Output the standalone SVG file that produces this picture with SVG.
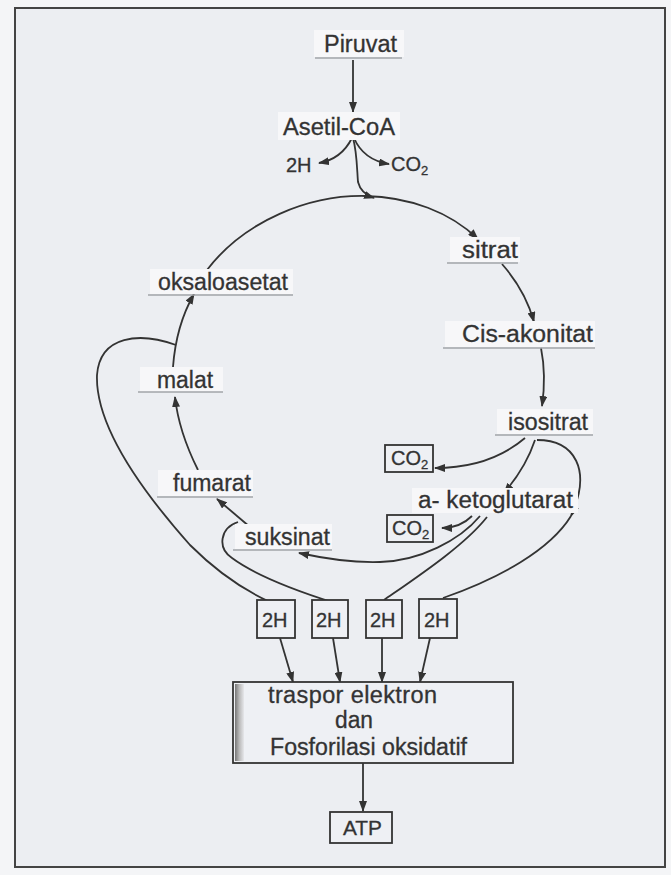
<svg xmlns="http://www.w3.org/2000/svg" width="671" height="875" viewBox="0 0 671 875">
<defs>
<style>
.lbl{font-family:"Liberation Sans",Arial,sans-serif;font-size:23.5px;fill:#333;stroke:#333;stroke-width:0.3;}
.sm{font-family:"Liberation Sans",Arial,sans-serif;font-size:20px;fill:#333;stroke:#333;stroke-width:0.3;}
.bg{fill:#f7f7f9;}
.ul{stroke:#a2a4a8;stroke-width:1.6;fill:none;}
.box{fill:#eef0f4;stroke:#333;stroke-width:1.8;}
.c{fill:none;stroke:#333;stroke-width:1.8;}
.a{marker-end:url(#arr);}
</style>
<marker id="arr" viewBox="0 0 11 8" refX="10" refY="4" markerWidth="11" markerHeight="8" markerUnits="userSpaceOnUse" orient="auto">
<path d="M0,0 L11,4 L0,8 Z" fill="#333"/>
</marker>
<linearGradient id="strip" x1="0" x2="1" y1="0" y2="0">
<stop offset="0" stop-color="#777"/>
<stop offset="0.5" stop-color="#bbb"/>
<stop offset="1" stop-color="#e6e7ea"/>
</linearGradient>
</defs>
<rect x="0" y="0" width="671" height="875" fill="#f4f5f7"/>
<rect id="frame" x="15" y="8" width="650" height="859" fill="#eceef2" stroke="#444" stroke-width="2"/>

<g id="connectors">
<path class="c a" d="M353,60 L353,112"/>
<path class="c a" d="M352,138 C346,150 336,160 319,163"/>
<path class="c a" d="M354,138 C360,152 370,161 389,164"/>
<path class="c a" d="M353,138 C357,152 357,170 358,182 C360,190 365,195 374,198"/>
<path class="c a" d="M207,270 C245,220 310,195 365,196 C410,197 450,212 478,239"/>
<path class="c a" d="M502,264 C516,280 528,300 534,322"/>
<path class="c a" d="M541,348 C545,368 545,385 542,406"/>
<path class="c a" d="M525,438 C505,455 475,468 435,468"/>
<path class="c a" d="M535,440 C530,455 522,472 504,493"/>
<path class="c a" d="M537,440 C575,440 592,470 571,516"/>
<path class="c" d="M571,516 C550,550 500,578 443,598"/>
<path class="c a" d="M472,516 C465,523 455,528 442,528"/>
<path class="c a" d="M480,516 C460,540 420,561 380,562 C350,563 322,558 299,553"/>
<path class="c" d="M487,517 C465,545 420,575 384,600"/>
<path class="c a" d="M250,527 L217,499"/>
<path class="c" d="M238,522 C220,528 217,548 232,558 C255,575 300,592 335,603"/>
<path class="c a" d="M198,470 C188,450 178,425 175,397"/>
<path class="c a" d="M173,367 C175,340 182,315 194,294"/>
<path class="c" d="M176,345 C140,332 100,335 97,375 C95,430 150,500 190,545 C215,570 240,588 268,601"/>
<path class="c a" d="M280,638 L293,682"/>
<path class="c a" d="M333,638 L340,682"/>
<path class="c a" d="M382,638 L382,682"/>
<path class="c a" d="M430,638 L420,682"/>
<path class="c a" d="M363,763 L363,811"/>
</g>

<g id="piruvat">
<rect class="bg" x="314" y="30" width="90" height="27"/>
<text class="lbl" x="324" y="52" textLength="73" lengthAdjust="spacingAndGlyphs">Piruvat</text>
<line class="ul" x1="315" y1="58" x2="402" y2="58"/>
</g>
<g id="asetil-coa">
<rect class="bg" x="278" y="112" width="122" height="28"/>
<text class="lbl" x="283" y="135" textLength="112" lengthAdjust="spacingAndGlyphs">Asetil-CoA</text>
</g>
<g id="h2-top"><text class="sm" x="286" y="172">2H</text></g>
<g id="co2-top"><text class="sm" x="391" y="171">CO<tspan font-size="13" dy="4">2</tspan></text></g>
<g id="sitrat">
<rect class="bg" x="450" y="237" width="70" height="25"/>
<text class="lbl" x="462" y="258" textLength="56" lengthAdjust="spacingAndGlyphs">sitrat</text>
<line class="ul" x1="447" y1="263" x2="518" y2="263"/>
</g>
<g id="cis-akonitat">
<rect class="bg" x="445" y="321" width="150" height="26"/>
<text class="lbl" x="462" y="342" textLength="131" lengthAdjust="spacingAndGlyphs">Cis-akonitat</text>
<line class="ul" x1="443" y1="348" x2="595" y2="348"/>
</g>
<g id="isositrat">
<rect class="bg" x="497" y="409" width="96" height="25"/>
<text class="lbl" x="508" y="430" textLength="80" lengthAdjust="spacingAndGlyphs">isositrat</text>
<line class="ul" x1="495" y1="435" x2="593" y2="435"/>
</g>
<g id="co2-a">
<rect class="box" x="385" y="445" width="48" height="27"/>
<text class="sm" x="391" y="465">CO<tspan font-size="13" dy="4">2</tspan></text>
</g>
<g id="a-ketoglutarat">
<rect class="bg" x="412" y="488" width="166" height="25"/>
<text class="lbl" x="418" y="508" textLength="155" lengthAdjust="spacingAndGlyphs">a- ketoglutarat</text>
</g>
<g id="co2-b">
<rect class="box" x="387" y="515" width="46" height="27"/>
<text class="sm" x="392" y="535">CO<tspan font-size="13" dy="4">2</tspan></text>
</g>
<g id="oksaloasetat">
<rect class="bg" x="150" y="269" width="143" height="25"/>
<text class="lbl" x="158" y="290" textLength="130" lengthAdjust="spacingAndGlyphs">oksaloasetat</text>
<line class="ul" x1="148" y1="295" x2="293" y2="295"/>
</g>
<g id="malat">
<rect class="bg" x="140" y="367" width="83" height="25"/>
<text class="lbl" x="157" y="388" textLength="56" lengthAdjust="spacingAndGlyphs">malat</text>
<line class="ul" x1="138" y1="392" x2="223" y2="392"/>
</g>
<g id="fumarat">
<rect class="bg" x="158" y="470" width="95" height="26"/>
<text class="lbl" x="173" y="491" textLength="78" lengthAdjust="spacingAndGlyphs">fumarat</text>
<line class="ul" x1="157" y1="497" x2="253" y2="497"/>
</g>
<g id="suksinat">
<rect class="bg" x="235" y="524" width="97" height="25"/>
<text class="lbl" x="245" y="545" textLength="85" lengthAdjust="spacingAndGlyphs">suksinat</text>
<line class="ul" x1="233" y1="550" x2="332" y2="550"/>
</g>
<g id="h2-1"><rect class="box" x="257" y="600" width="38" height="38"/><text class="sm" x="262" y="627">2H</text></g>
<g id="h2-2"><rect class="box" x="312" y="600" width="36" height="38"/><text class="sm" x="316" y="627">2H</text></g>
<g id="h2-3"><rect class="box" x="366" y="600" width="36" height="38"/><text class="sm" x="370" y="627">2H</text></g>
<g id="h2-4"><rect class="box" x="419" y="599" width="38" height="39"/><text class="sm" x="424" y="627">2H</text></g>
<g id="etc">
<rect class="box" x="233" y="682" width="280" height="81"/>
<rect x="235" y="684" width="9" height="77" fill="url(#strip)"/>
<text class="lbl" x="268" y="703" textLength="169" lengthAdjust="spacing">traspor elektron</text>
<text class="lbl" x="335" y="728" textLength="38" lengthAdjust="spacingAndGlyphs">dan</text>
<text class="lbl" x="270" y="755" textLength="197" lengthAdjust="spacingAndGlyphs">Fosforilasi oksidatif</text>
</g>
<g id="atp">
<rect class="box" x="330" y="812" width="62" height="31"/>
<text class="sm" x="343" y="835" textLength="39" lengthAdjust="spacingAndGlyphs">ATP</text>
</g>
</svg>
